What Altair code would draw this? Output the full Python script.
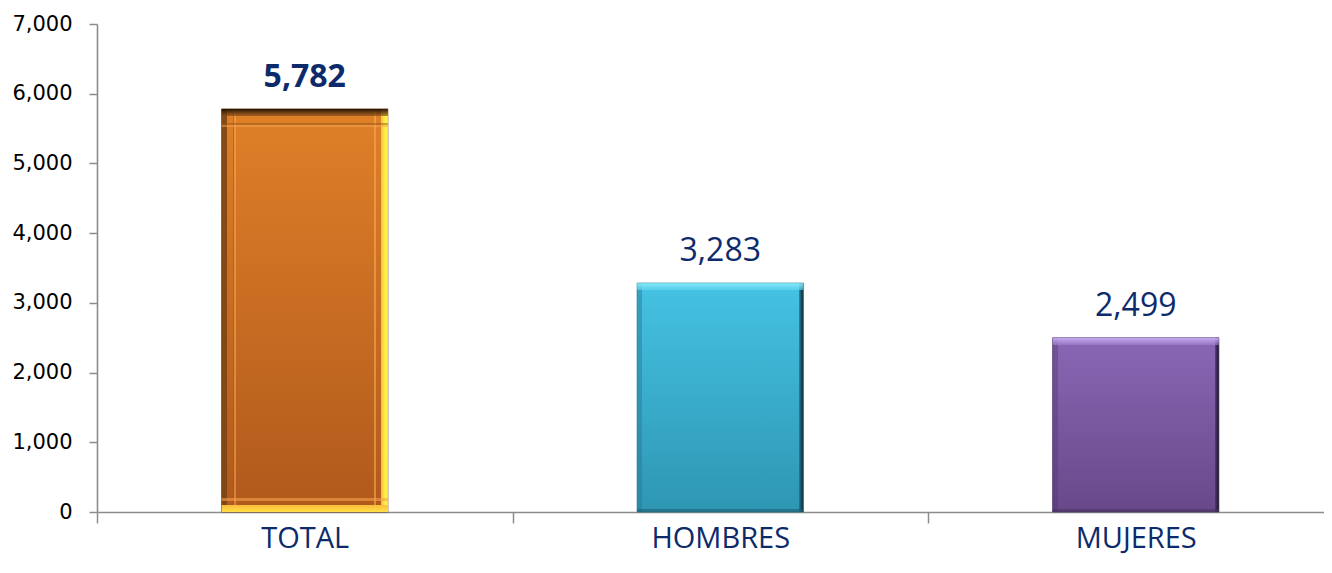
import altair as alt
import pandas as pd

categories = ["TOTAL", "HOMBRES", "MUJERES"]
values = [5782, 3283, 2499]
value_labels = ["5,782", "3,283", "2,499"]
y_ticks = [0, 1000, 2000, 3000, 4000, 5000, 6000, 7000]

df = pd.DataFrame({"categoria": categories, "valor": values, "etiqueta": value_labels})

NAVY = "#0D2B6B"
AXIS_GRAY = "#8C8C8C"


def grad(stops, horizontal=False):
    return alt.Gradient(
        gradient="linear",
        stops=[alt.GradientStop(color=c, offset=o) for o, c in stops],
        x1=0, y1=0,
        x2=1 if horizontal else 0,
        y2=0 if horizontal else 1,
    )


T = "rgba(0,0,0,0)"
styles = {
    "TOTAL": {
        "fill": [(0, "#DF8028"), (1, "#B0591C")],
        "h": [(0, "rgba(125,68,20,0.9)"), (0.03, "rgba(125,68,20,0.9)"), (0.03, T),
              (0.068, T), (0.068, "rgba(150,85,25,0.5)"), (0.075, "rgba(150,85,25,0.5)"),
              (0.075, "rgba(250,165,80,0.55)"), (0.085, "rgba(250,165,80,0.55)"), (0.085, T),
              (0.915, T), (0.915, "rgba(250,170,80,0.6)"), (0.93, "rgba(250,170,80,0.6)"), (0.93, T),
              (0.96, T), (0.96, "rgba(255,200,70,0.9)"), (0.978, "rgba(255,235,60,1)"), (1, "rgba(255,245,90,1)")],
        "v": [(0, "rgba(25,12,0,0.97)"), (0.018, "rgba(130,75,25,0.6)"), (0.018, T),
              (0.036, T), (0.036, "rgba(150,85,25,0.5)"), (0.04, "rgba(150,85,25,0.5)"),
              (0.04, "rgba(250,165,80,0.5)"), (0.045, "rgba(250,165,80,0.5)"), (0.045, T),
              (0.965, T), (0.965, "rgba(245,160,75,0.6)"), (0.972, "rgba(245,160,75,0.6)"), (0.972, T),
              (0.982, T), (0.982, "rgba(255,190,60,0.95)"), (1, "rgba(255,225,70,1)")],
        "stroke": "#7A4212", "weight": "bold",
    },
    "HOMBRES": {
        "fill": [(0, "#45C2E3"), (1, "#2E96B3")],
        "h": [(0, "rgba(35,120,150,0.45)"), (0.03, "rgba(35,120,150,0.45)"), (0.03, T),
              (0.975, T), (0.975, "rgba(30,95,115,0.6)"), (0.99, "rgba(15,60,75,0.95)"), (1, "rgba(15,60,75,0.95)")],
        "v": [(0, "rgba(140,238,252,0.95)"), (0.03, "rgba(100,215,240,0.6)"), (0.03, T),
              (0.985, T), (0.985, "rgba(30,95,115,0.6)"), (1, "rgba(30,95,115,0.6)")],
        "stroke": "#2A7890", "weight": "normal",
    },
    "MUJERES": {
        "fill": [(0, "#8A67B5"), (1, "#684889")],
        "h": [(0, "rgba(80,55,110,0.4)"), (0.03, "rgba(80,55,110,0.4)"), (0.03, T),
              (0.975, T), (0.975, "rgba(70,50,95,0.6)"), (0.99, "rgba(45,30,65,0.95)"), (1, "rgba(45,30,65,0.95)")],
        "v": [(0, "rgba(205,175,245,0.95)"), (0.04, "rgba(165,135,210,0.6)"), (0.04, T),
              (0.98, T), (0.98, "rgba(70,50,95,0.6)"), (1, "rgba(70,50,95,0.6)")],
        "stroke": "#4C3868", "weight": "normal",
    },
}

x_enc = alt.X(
    "categoria:N",
    sort=categories,
    scale=alt.Scale(domain=categories, paddingInner=0.6, paddingOuter=0.276535, align=0.54243),
    axis=alt.Axis(
        title=None, labelAngle=0, tickSize=11, tickOffset=-207.75, labelOffset=207.75,
        labelPadding=1, labelFont="Open Sans", labelFontSize=29,
        labelColor=NAVY, domainColor=AXIS_GRAY, tickColor=AXIS_GRAY,
        domainWidth=1.6, tickWidth=1.5,
    ),
)
y_enc = alt.Y(
    "valor:Q",
    scale=alt.Scale(domain=[0, 7000]),
    axis=alt.Axis(
        title=None, values=y_ticks, format=",.0f", grid=False, tickSize=8,
        labelPadding=17, labelFont="DejaVu Sans", labelFontSize=21,
        labelColor="#000000", domainColor=AXIS_GRAY, tickColor=AXIS_GRAY,
        domainWidth=1.6, tickWidth=1.5,
    ),
)

base = alt.Chart(df)
layers = []
for cat in categories:
    s = styles[cat]
    sub = base.transform_filter(alt.datum.categoria == cat)
    bar = sub.mark_bar(color=grad(s["fill"]), stroke=s["stroke"], strokeWidth=0.8).encode(x=x_enc, y=y_enc)
    bev_h = sub.mark_bar(color=grad(s["h"], horizontal=True)).encode(x=x_enc, y=y_enc)
    bev_v = sub.mark_bar(color=grad(s["v"])).encode(x=x_enc, y=y_enc)
    txt = sub.mark_text(
        align="center", baseline="alphabetic", dy=-22, font="Open Sans",
        fontSize=32, fontWeight=s["weight"], color=NAVY
    ).encode(x=x_enc, y=y_enc, text="etiqueta:N")
    layers += [bar, bev_h, bev_v, txt]

chart = alt.layer(*layers).properties(
    width=1227, height=488,
    autosize=alt.AutoSizeParams(type="none"),
    padding={"left": 89, "top": 16, "right": 0, "bottom": 45},
).configure_view(strokeWidth=0)

chart.save("out.html", embed_options={"renderer": "svg", "actions": False})
